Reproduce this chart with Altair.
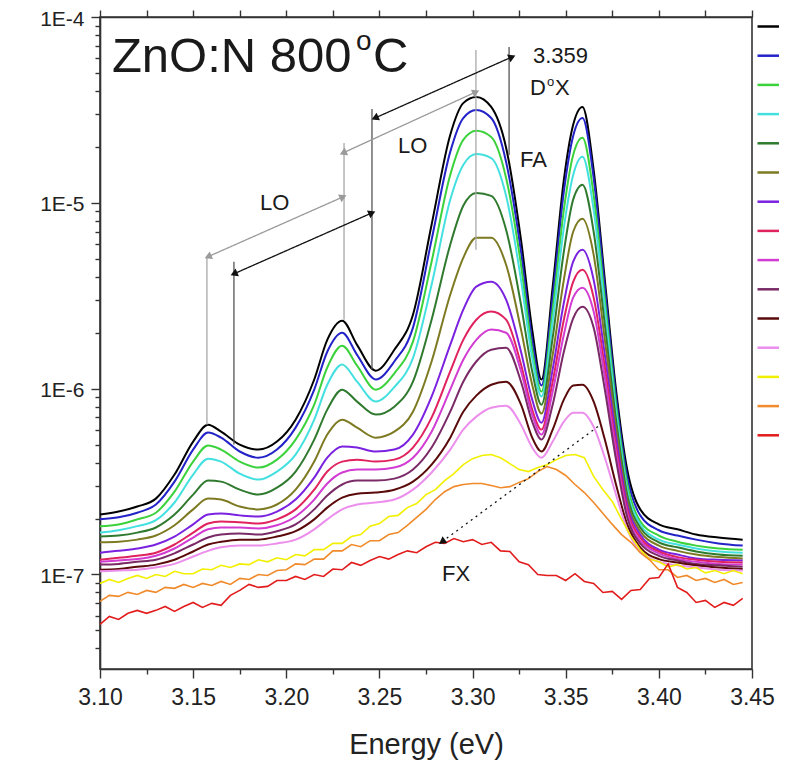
import altair as alt
import pandas as pd

UNIT = 1e-7  # all intensities below are in units of 1E-7

energy = [3.100, 3.110, 3.120, 3.130, 3.140, 3.150, 3.158, 3.165, 3.175, 3.185, 3.195,
          3.205, 3.215, 3.222, 3.230, 3.238, 3.248, 3.258, 3.268, 3.278, 3.288,
          3.295, 3.302, 3.310, 3.318, 3.326, 3.332, 3.337, 3.343, 3.349, 3.354,
          3.359, 3.365, 3.371, 3.377, 3.383, 3.390, 3.400, 3.410, 3.420, 3.432, 3.445]
# finer energy grid for the noisy low-intensity spectra
energy_fine = [round(3.100 + 0.005 * i, 3) for i in range(70)]

series_names = ["10 K", "20 K", "30 K", "40 K", "50 K", "60 K", "70 K", "80 K",
                "90 K", "100 K", "120 K", "140 K", "160 K", "180 K", "200 K"]
series_colors = ["#000000", "#2323c8", "#3cd23c", "#44e0e0", "#2f7a2f", "#7d7a22",
                 "#7a22e0", "#e0225f", "#d23cd2", "#7a2a66", "#5a0a0a", "#ec8eec",
                 "#f2f000", "#f08a2a", "#e21c1c"]

black = [2.10, 2.18, 2.32, 2.56, 3.45, 5.19, 6.40, 5.87, 5.00, 4.70, 5.19, 6.81, 11.2, 18.3, 23.2, 17.2,
         12.5, 16.2, 25.0, 76.2, 232, 344, 371, 328, 198, 63.2, 20.8, 11.2, 35.3, 133, 263, 328, 150,
         38.5, 9.88, 3.67, 2.24, 1.86, 1.75, 1.64, 1.58, 1.54]
blue = [1.98, 2.03, 2.15, 2.38, 3.16, 4.70, 5.80, 5.45, 4.59, 4.25, 4.70, 6.17, 9.88, 15.8, 20.0, 15.2,
        11.2, 14.0, 21.3, 63.2, 188, 286, 316, 286, 166, 54.6, 18.3, 10.4, 31.2, 115, 229, 286, 136,
        34.9, 9.06, 3.37, 2.08, 1.73, 1.62, 1.54, 1.47, 1.43]
green = [1.82, 1.86, 1.98, 2.15, 2.79, 4.05, 4.94, 4.70, 4.05, 3.76, 4.15, 5.32, 8.20, 13.0, 17.0, 13.3,
         9.88, 12.1, 17.9, 48.2, 141, 218, 244, 226, 136, 46.4, 16.2, 9.64, 26.6, 91.7, 181, 224, 110,
         30.1, 8.20, 3.09, 1.93, 1.62, 1.50, 1.43, 1.38, 1.36]
cyan = [1.68, 1.73, 1.82, 1.96, 2.44, 3.45, 4.20, 4.05, 3.49, 3.24, 3.58, 4.42, 6.81, 10.5, 13.5, 10.9,
        8.52, 10.2, 14.6, 36.2, 104, 160, 183, 174, 109, 38.5, 14.6, 9.06, 23.0, 73.4, 141, 177, 91.7,
        26.6, 7.52, 2.86, 1.86, 1.54, 1.45, 1.38, 1.33, 1.31]
dkgreen = [1.60, 1.62, 1.68, 1.79, 2.10, 2.69, 3.20, 3.16, 2.86, 2.69, 2.93, 3.58, 5.32, 7.71, 9.88, 8.52,
           7.25, 8.00, 10.9, 23.5, 59.5, 96.4, 113, 109, 71.6, 28.3, 12.4, 8.20, 18.8, 54.6, 104, 125, 69.9,
           22.1, 6.81, 2.69, 1.79, 1.49, 1.40, 1.33, 1.28, 1.26]
olive = [1.49, 1.50, 1.54, 1.62, 1.84, 2.24, 2.56, 2.53, 2.32, 2.24, 2.38, 2.86, 4.05, 5.66, 6.81, 6.17,
         5.45, 5.87, 7.52, 14.0, 32.0, 50.6, 64.8, 64.8, 46.4, 20.8, 10.5, 7.34, 15.2, 38.5, 69.9, 82.0, 52.5,
         18.3, 6.17, 2.53, 1.71, 1.43, 1.34, 1.28, 1.24, 1.22]
violet = [1.31, 1.34, 1.38, 1.45, 1.60, 1.86, 2.10, 2.13, 2.08, 2.05, 2.18, 2.53, 3.32, 4.25, 4.88, 4.82,
          4.59, 4.70, 5.66, 9.06, 17.2, 26.6, 35.4, 37.6, 30.1, 15.8, 8.73, 6.56, 12.7, 29.0, 48.2, 55.9, 38.5,
          15.2, 5.52, 2.38, 1.64, 1.36, 1.28, 1.22, 1.20, 1.19]
crimson = [1.20, 1.23, 1.26, 1.31, 1.45, 1.68, 1.88, 1.93, 1.91, 1.88, 1.98, 2.24, 2.86, 3.58, 4.05, 4.15,
           4.05, 4.15, 4.82, 6.98, 12.4, 18.3, 23.5, 26.0, 23.5, 13.5, 7.71, 6.02, 10.9, 23.5, 37.6, 43.6, 30.9,
           13.0, 4.88, 2.24, 1.58, 1.33, 1.24, 1.20, 1.17, 1.16]
magenta = [1.17, 1.19, 1.21, 1.26, 1.38, 1.58, 1.75, 1.79, 1.79, 1.77, 1.84, 2.05, 2.53, 3.09, 3.54, 3.67,
           3.67, 3.76, 4.25, 5.87, 9.88, 14.3, 18.3, 20.8, 20.0, 12.4, 7.25, 5.66, 9.64, 19.5, 30.9, 34.9, 26.0,
           11.5, 4.53, 2.13, 1.52, 1.30, 1.21, 1.17, 1.14, 1.13]
plum = [1.13, 1.14, 1.17, 1.20, 1.30, 1.45, 1.58, 1.64, 1.66, 1.64, 1.71, 1.86, 2.24, 2.66, 3.05, 3.20,
        3.20, 3.28, 3.67, 4.82, 7.52, 10.9, 14.0, 16.2, 16.6, 10.9, 6.64, 5.32, 8.20, 15.8, 23.9, 27.6, 21.3,
        9.88, 4.15, 2.03, 1.47, 1.26, 1.19, 1.14, 1.12, 1.10]
maroon = [1.06, 1.07, 1.10, 1.13, 1.20, 1.33, 1.45, 1.50, 1.54, 1.54, 1.60, 1.71, 1.98, 2.29, 2.59, 2.72,
          2.76, 2.86, 3.16, 3.90, 5.45, 7.52, 9.17, 10.5, 10.9, 8.20, 5.45, 4.59, 6.02, 8.73, 10.4, 10.5, 8.52,
          5.32, 3.05, 1.86, 1.40, 1.21, 1.16, 1.12, 1.09, 1.07]
pink = [1.04, 1.05, 1.06, 1.09, 1.14, 1.25, 1.34, 1.40, 1.43, 1.43, 1.47, 1.54, 1.75, 1.98, 2.24, 2.38,
        2.44, 2.53, 2.86, 3.54, 4.70, 6.02, 7.07, 7.90, 8.10, 6.40, 4.82, 4.25, 5.19, 6.64, 7.43, 7.43, 6.24,
        4.25, 2.69, 1.75, 1.33, 1.17, 1.12, 1.09, 1.06, 1.05]
# the three lowest spectra on the fine grid (noise as seen in the picture)
yellow = [0.895, 0.940, 0.906, 0.952, 0.988, 0.952, 1.00, 0.976, 1.04, 1.01,
          1.01, 1.07, 1.06, 1.12, 1.09, 1.14, 1.13, 1.20, 1.17, 1.23,
          1.20, 1.28, 1.26, 1.36, 1.36, 1.47, 1.47, 1.60, 1.64, 1.82,
          1.88, 2.05, 2.08, 2.29, 2.41, 2.69, 2.86, 3.20, 3.49, 3.90,
          4.20, 4.37, 4.42, 4.25, 3.95, 3.67, 3.58, 3.76, 3.90, 4.15,
          4.37, 4.42, 4.25, 3.37, 2.86, 2.47, 1.98, 1.60, 1.36, 1.21,
          1.17, 1.10, 1.13, 1.07, 1.09, 1.02, 1.05, 1.01, 1.05, 1.01]
orange = [0.716, 0.772, 0.762, 0.801, 0.781, 0.821, 0.801, 0.852, 0.842, 0.884,
          0.852, 0.895, 0.873, 0.917, 0.884, 0.952, 0.940, 1.00, 0.988, 1.05,
          1.06, 1.14, 1.13, 1.21, 1.21, 1.34, 1.34, 1.45, 1.41, 1.52,
          1.52, 1.64, 1.68, 1.84, 2.03, 2.24, 2.53, 2.79, 2.97, 3.05,
          3.09, 3.09, 3.01, 2.93, 2.97, 3.13, 3.28, 3.58, 3.81, 3.67,
          3.41, 3.05, 2.76, 2.44, 2.13, 1.86, 1.64, 1.49, 1.31, 1.20,
          1.06, 1.06, 0.964, 0.988, 0.928, 0.952, 0.906, 0.940, 0.884, 0.906]
red = [0.539, 0.595, 0.573, 0.618, 0.641, 0.618, 0.641, 0.673, 0.633, 0.673,
       0.707, 0.665, 0.699, 0.682, 0.772, 0.821, 0.884, 0.852, 0.863, 0.928,
       0.928, 0.976, 0.940, 1.00, 0.976, 1.07, 1.06, 1.16, 1.12, 1.19,
       1.25, 1.21, 1.28, 1.34, 1.31, 1.41, 1.49, 1.47, 1.56, 1.50,
       1.54, 1.45, 1.49, 1.34, 1.33, 1.17, 1.13, 1.00, 0.988, 0.988,
       0.928, 1.01, 0.917, 0.895, 0.800, 0.811, 0.734, 0.821, 0.831, 0.952,
       0.964, 1.14, 0.852, 0.800, 0.707, 0.725, 0.665, 0.707, 0.682, 0.743]

curves = [black, blue, green, cyan, dkgreen, olive, violet, crimson, magenta, plum,
          maroon, pink, yellow, orange, red]
noisy_names = series_names[12:]

# vertical guide lines (energy, top and bottom intensity in 1E-7 units)
guide_E = [3.1574, 3.1719, 3.2310, 3.2460, 3.3018, 3.3196]
guide_top = [50.6, 48.2, 210, 320, 665, 690]
guide_bot = [6.40, 5.00, 23.5, 12.7, 55.9, 181]
guide_col = ["#a8a8a8", "#555555", "#a8a8a8", "#555555", "#a8a8a8", "#555555"]

# arrows
arrow_E0 = [3.1580, 3.1719, 3.2305, 3.2476, 3.3673]
arrow_I0 = [51.3, 41.5, 185.7, 286, 6.25]
arrow_E1 = [3.2305, 3.2460, 3.3018, 3.3212, 3.2836]
arrow_I1 = [107.7, 88.3, 395, 610, 1.50]
arrow_col = ["#9a9a9a", "#111111", "#9a9a9a", "#111111", "#111111"]
arrow_dotted = [False, False, False, False, True]
arrow_angle = [336, 336, 335, 336, 324]

# text annotations
txt = ["ZnO:N 800", "o", "C", "3.359", "D", "o", "X", "FA", "LO", "LO", "FX"]
txt_E = [3.1064, 3.2374, 3.2466, 3.3324, 3.3308, 3.3400, 3.3443, 3.3255, 3.2600, 3.1859, 3.2836]
txt_I = [506, 665, 506, 566, 381, 426, 381, 156, 186, 91.7, 0.917]
txt_size = [49, 28, 49, 22, 22, 13, 22, 22, 22, 22, 22]

x_major = [3.10, 3.15, 3.20, 3.25, 3.30, 3.35, 3.40, 3.45]
x_minor = [3.125, 3.175, 3.225, 3.275, 3.325, 3.375, 3.425]
x_all = sorted(x_major + x_minor)
y_major = [1e-7, 1e-6, 1e-5, 1e-4]
y_minor = [m * d for d in (1e-8, 1e-7, 1e-6, 1e-5) for m in range(2, 10) if m * d >= 3.1e-8]

rows = []
for name, vals in zip(series_names, curves):
    grid = energy_fine if len(vals) == len(energy_fine) else energy
    for e, v in zip(grid, vals):
        rows.append({"E": e, "I": v * UNIT, "series": name})
df = pd.DataFrame(rows)

gdf = pd.DataFrame({"E": guide_E, "I": [v * UNIT for v in guide_top],
                    "I2": [v * UNIT for v in guide_bot], "c": guide_col})
adf = pd.DataFrame({"E": arrow_E0, "E2": arrow_E1, "I": [v * UNIT for v in arrow_I0],
                    "I2": [v * UNIT for v in arrow_I1], "c": arrow_col, "dotted": arrow_dotted})
heads = []
for i in range(len(arrow_E0)):
    if not arrow_dotted[i]:
        heads.append({"E": arrow_E0[i], "I": arrow_I0[i] * UNIT, "c": arrow_col[i],
                      "shape": "triangle-left", "ang": arrow_angle[i]})
        heads.append({"E": arrow_E1[i], "I": arrow_I1[i] * UNIT, "c": arrow_col[i],
                      "shape": "triangle-right", "ang": arrow_angle[i]})
    else:
        heads.append({"E": arrow_E1[i], "I": arrow_I1[i] * UNIT, "c": arrow_col[i],
                      "shape": "triangle-left", "ang": arrow_angle[i]})
hdf = pd.DataFrame(heads)
tdf = pd.DataFrame({"E": txt_E, "I": [v * UNIT for v in txt_I], "t": txt, "fs": txt_size})

xscale = alt.Scale(domain=[3.10, 3.45], nice=False, zero=False)
yscale = alt.Scale(type="log", domain=[3.1e-8, 1e-4], nice=False)

y_label = ("datum.value > 5e-5 ? '1E-4' : datum.value > 5e-6 ? '1E-5' : "
           "datum.value > 5e-7 ? '1E-6' : '1E-7'")

color_scale = alt.Scale(domain=series_names, range=series_colors)

lines = alt.Chart(df).mark_line(strokeWidth=2, interpolate="monotone").encode(
    x=alt.X("E:Q", scale=xscale, axis=alt.Axis(
        orient="bottom", values=x_major, format=".2f", tickSize=9,
        labelFontSize=23, labelPadding=8, labelOverlap=False, labelFlush=False,
        title="Energy (eV)", titleFontSize=29, titleFontWeight="normal", titlePadding=21,
        grid=False)),
    y=alt.Y("I:Q", scale=yscale, axis=alt.Axis(
        orient="left", values=y_major, labelExpr=y_label, tickSize=9,
        labelFontSize=21, labelPadding=7, labelOffset=2, labelOverlap=False, labelFlush=False,
        title=None, grid=False)),
    color=alt.Color("series:N", scale=color_scale,
                    legend=alt.Legend(title=None, orient="none", legendX=656, legendY=-6.5,
                                      symbolType="stroke", symbolSize=841, symbolStrokeWidth=2.5,
                                      labelExpr="''", labelFontSize=14, rowPadding=6.2, padding=0)),
    order=alt.Order("E:Q"),
).transform_filter(~alt.FieldOneOfPredicate(field="series", oneOf=noisy_names))

noisy_lines = alt.Chart(df).mark_line(strokeWidth=1.6, interpolate="linear").encode(
    x=alt.X("E:Q", scale=xscale, axis=None),
    y=alt.Y("I:Q", scale=yscale, axis=None),
    color=alt.Color("series:N", scale=color_scale, legend=None),
    order=alt.Order("E:Q"),
).transform_filter(alt.FieldOneOfPredicate(field="series", oneOf=noisy_names))

guides = alt.Chart(gdf).mark_rule(strokeWidth=1.3).encode(
    x=alt.X("E:Q", scale=xscale, axis=alt.Axis(orient="top", values=x_all, labels=False,
                                               tickSize=7, title=None, grid=False)),
    y=alt.Y("I:Q", scale=yscale, axis=alt.Axis(orient="left", values=y_minor, labels=False,
                                               tickSize=5, domain=False, title=None, grid=False)),
    y2="I2:Q",
    color=alt.Color("c:N", scale=None),
)

arrows = alt.Chart(adf).mark_rule(strokeWidth=1.3).encode(
    x=alt.X("E:Q", scale=xscale, axis=alt.Axis(orient="bottom", values=x_minor, labels=False,
                                               tickSize=5, domain=False, title=None, grid=False)),
    x2="E2:Q",
    y=alt.Y("I:Q", scale=yscale, axis=None),
    y2="I2:Q",
    color=alt.Color("c:N", scale=None),
    strokeDash=alt.StrokeDash("dotted:N", scale=alt.Scale(domain=[False, True],
                                                          range=[[1, 0], [2, 4]]), legend=None),
)

arrowheads = alt.Chart(hdf).mark_point(filled=True, size=70, opacity=1, strokeWidth=0).encode(
    x=alt.X("E:Q", scale=xscale, axis=None),
    y=alt.Y("I:Q", scale=yscale, axis=None),
    color=alt.Color("c:N", scale=None),
    shape=alt.Shape("shape:N", scale=None),
    angle=alt.Angle("ang:Q", scale=None),
)

texts = alt.Chart(tdf).mark_text(align="left", baseline="alphabetic", color="#1a1a1a").encode(
    x=alt.X("E:Q", scale=xscale, axis=None),
    y=alt.Y("I:Q", scale=yscale, axis=None),
    text="t:N",
    size=alt.Size("fs:Q", scale=None),
)

chart = alt.layer(lines, noisy_lines, guides, arrows, arrowheads, texts).resolve_axis(
    x="independent", y="independent"
).properties(
    width=652, height=652,
    padding={"left": 92, "top": 9, "right": 27, "bottom": 95},
    autosize=alt.AutoSizeParams(type="none"),
).configure(font="Liberation Sans").configure_view(
    stroke="#333333", strokeWidth=1.6
).configure_axis(
    domainColor="#333333", domainWidth=1.6, tickColor="#333333", tickWidth=1.4,
    labelColor="#222222", titleColor="#222222", labelFont="Liberation Sans",
    titleFont="Liberation Sans",
)

chart.save("out.html", embed_options={"renderer": "svg", "actions": False})
